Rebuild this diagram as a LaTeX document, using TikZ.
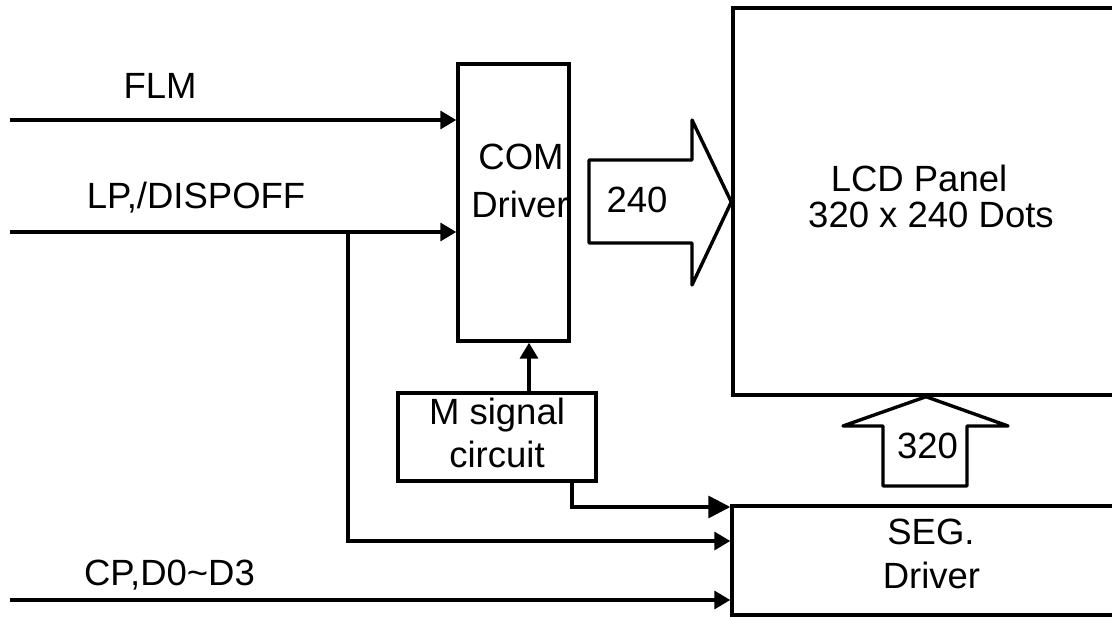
\documentclass[tikz,border=0pt]{standalone}
\usepackage{fontspec}
\setmainfont{Liberation Sans}
\usetikzlibrary{arrows.meta}
\begin{document}
\begin{tikzpicture}[x=1pt,y=-1pt,
  lw/.style={line width=3.4pt},
  box/.style={draw,lw,rectangle,inner sep=0pt},
  txt/.style={inner sep=0pt,anchor=base,font=\fontsize{36.5}{43}\selectfont},
  sig/.style={lw,-{Triangle[length=16pt,width=18pt]}},
  bigsig/.style={lw,-{Triangle[length=22pt,width=22pt]}},
  fat/.style={lw,line join=round}]
\useasboundingbox (0,0) rectangle (1112,617);
\clip (0,0) rectangle (1112,617);
% boxes
\node[box,minimum width=111pt,minimum height=277pt] (com) at (513.5,202.5) {};
\node[box,minimum width=198pt,minimum height=88pt] (msig) at (497,437) {};
\node[box,minimum width=420pt,minimum height=387pt] (lcd) at (943,201.5) {};
\node[box,minimum width=420pt,minimum height=109pt] (seg) at (942,560.5) {};
% texts
\node[txt] (flmT) at (160,99) {FLM};
\node[txt] (lpT) at (196,209) {LP,/DISPOFF};
\node[txt] (cpT) at (169.5,585) {CP,D0\textasciitilde D3};
\node[txt] (comT1) at (521,170) {COM};
\node[txt] (comT2) at (520,218) {Driver};
\node[txt] (msT1) at (497,425) {M signal};
\node[txt] (msT2) at (497,468) {circuit};
\node[txt] (lcdT1) at (919,192) {LCD Panel};
\node[txt] (lcdT2) at (931,228) {320 x 240 Dots};
\node[txt] (segT1) at (931,545) {SEG.};
\node[txt] (segT2) at (931.5,588) {Driver};
% fat arrows
\draw[fat] (589,160) -- (692,160) -- (692,120) -- (lcd.west |- 0,202) -- (692,285) -- (692,243) -- (589,243) -- cycle;
\node[txt] (n240) at (637,213) {240};
\draw[fat] (883,486) -- (883,426) -- (843,426) -- (lcd.south -| 926,0) -- (1008,426) -- (967,426) -- (967,486) -- cycle;
\node[txt] (n320) at (927.5,459) {320};
% signals
\coordinate (flmS) at (10,120);
\coordinate (lpS) at (10,232);
\coordinate (br) at (348,232);
\coordinate (cpS) at (10,600);
\draw[sig] (flmS) -- (flmS -| com.west);
\draw[sig] (lpS) -- (lpS -| com.west);
\draw[sig] (br) |- (seg.west |- 0,541);
\draw[sig] (cpS) -- (cpS -| seg.west);
\draw[sig] (msig.north -| 529,0) -- (com.south -| 529,0);
\draw[bigsig] (msig.south -| 572,0) |- (seg.west |- 0,507);
\end{tikzpicture}
\end{document}
